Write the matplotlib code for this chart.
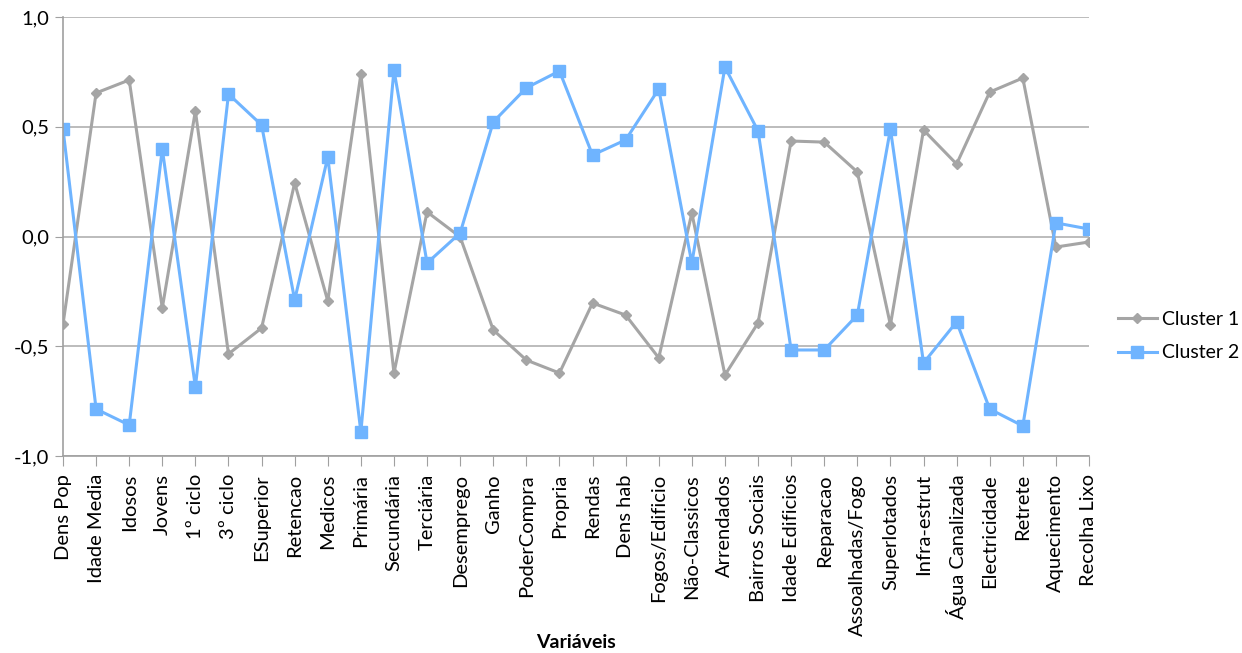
import matplotlib.pyplot as plt
from matplotlib.ticker import FuncFormatter

variaveis = ['Dens Pop', 'Idade Media', 'Idosos', 'Jovens', '1º ciclo', '3º ciclo',
             'ESuperior', 'Retencao', 'Medicos', 'Primária', 'Secundária', 'Terciária',
             'Desemprego', 'Ganho', 'PoderCompra', 'Propria', 'Rendas', 'Dens hab',
             'Fogos/Edificio', 'Não-Classicos', 'Arrendados', 'Bairros Sociais',
             'Idade Edificios', 'Reparacao', 'Assoalhadas/Fogo', 'Superlotados',
             'Infra-estrut', 'Água Canalizada', 'Electricidade', 'Retrete',
             'Aquecimento', 'Recolha Lixo']

cluster1 = [-0.40, 0.654, 0.713, -0.326, 0.572, -0.535, -0.417, 0.244, -0.294, 0.740,
            -0.622, 0.112, -0.002, -0.426, -0.563, -0.622, -0.303, -0.358, -0.553, 0.107,
            -0.631, -0.394, 0.435, 0.430, 0.294, -0.403, 0.485, 0.330, 0.658, 0.722,
            -0.048, -0.025]

cluster2 = [0.490, -0.786, -0.859, 0.399, -0.686, 0.649, 0.508, -0.289, 0.362, -0.891,
            0.759, -0.121, 0.016, 0.522, 0.677, 0.754, 0.371, 0.440, 0.672, -0.121,
            0.772, 0.481, -0.517, -0.517, -0.358, 0.490, -0.576, -0.389, -0.786, -0.863,
            0.062, 0.034]

plt.rcParams['font.family'] = ['Lato', 'DejaVu Sans']

fig = plt.figure(figsize=(12.42, 6.53), dpi=100)
ax = fig.add_axes([63 / 1242, 1 - 456 / 653, (1089 - 63) / 1242, (456 - 17) / 653])

x = list(range(len(variaveis)))
ax.plot(x, cluster1, color='#A5A5A5', lw=2.2, marker='D', ms=5, label='Cluster 1')
ax.plot(x, cluster2, color='#6FB4FF', lw=2.2, marker='s', ms=8, label='Cluster 2')

ax.set_xlim(0, len(variaveis) - 1)
ax.set_ylim(-1, 1)
ax.set_yticks([-1, -0.5, 0, 0.5, 1])
ax.yaxis.set_major_formatter(FuncFormatter(lambda v, p: f'{v:.1f}'.replace('.', ',')))
ax.grid(axis='y', color='#B0B0B0', lw=1.2)
ax.set_axisbelow(True)

ax.set_xticks(x)
ax.set_xticklabels(variaveis, rotation=90, fontsize=14.5)
ax.tick_params(axis='y', labelsize=14.5, length=6, color='#A0A0A0', pad=4)
ax.tick_params(axis='x', length=7, color='#A0A0A0', pad=6)

for s in ['top', 'right']:
    ax.spines[s].set_visible(False)
for s in ['left', 'bottom']:
    ax.spines[s].set_color('#A0A0A0')
    ax.spines[s].set_linewidth(1.2)

ax.set_xlabel('Variáveis', fontsize=14, fontweight='bold')
ax.xaxis.set_label_coords(0.5, -0.405)

ax.legend(loc='center left', bbox_to_anchor=(1.028, 0.273), frameon=False, fontsize=14,
          handlelength=2.0, handletextpad=0.3, labelspacing=0.85,
          borderpad=0, borderaxespad=0)

fig.savefig('out.png', dpi=100)
